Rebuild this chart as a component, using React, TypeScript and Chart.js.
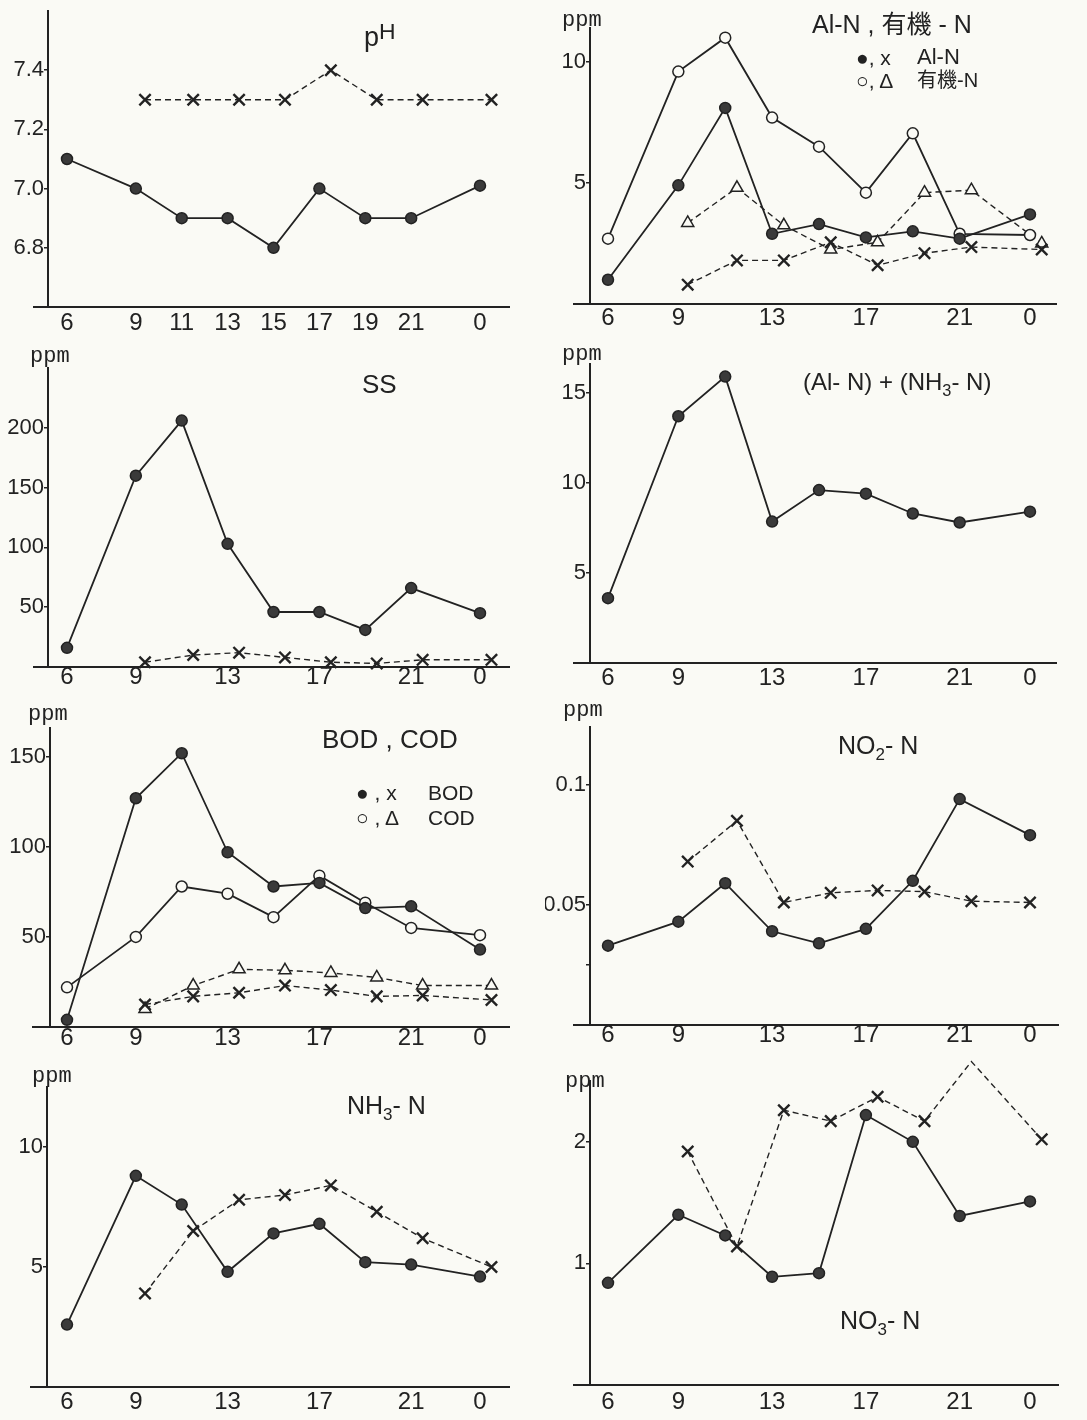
import React, { useEffect, useRef } from 'react';
import { Chart, registerables } from 'chart.js';
Chart.register(...registerables);

// ---------------- data ----------------
const HOURS = [6, 9, 11, 13, 15, 17, 19, 21, 24];
const HOURS_SHIFT = [9.4, 11.5, 13.5, 15.5, 17.5, 19.5, 21.5, 24.5];
const HOURS_SHIFT_NO2 = [9.4, 11.5, 13.5, 15.5, 17.5, 19.5, 21.5, 24.0];
const X_TICKS_PH = [6, 9, 11, 13, 15, 17, 19, 21, 24];
const X_TICKS = [6, 9, 13, 17, 21, 24];

const PH_SOLID = [7.1, 7.0, 6.9, 6.9, 6.8, 7.0, 6.9, 6.9, 7.01];
const PH_DASHED = [7.3, 7.3, 7.3, 7.3, 7.4, 7.3, 7.3, 7.3];

const ALN_SOLID = [1.0, 4.9, 8.1, 2.9, 3.3, 2.75, 3.0, 2.7, 3.7];
const ORGN_SOLID = [2.7, 9.6, 11.0, 7.7, 6.5, 4.6, 7.05, 2.9, 2.85];
const ALN_DASHED = [0.8, 1.8, 1.8, 2.55, 1.6, 2.1, 2.35, 2.25];
const ORGN_DASHED = [3.35, 4.8, 3.25, 2.25, 2.55, 4.6, 4.7, 2.5];

const SS_SOLID = [16, 160, 206, 103, 46, 46, 31, 66, 45];
const SS_DASHED = [4, 10, 12, 8, 4, 3, 6, 6];

const ALNH3_SOLID = [3.6, 13.7, 15.9, 7.85, 9.6, 9.4, 8.3, 7.8, 8.4];

const BOD_SOLID = [4, 127, 152, 97, 78, 80, 66, 67, 43];
const COD_SOLID = [22, 50, 78, 74, 61, 84, 69, 55, 51];
const BOD_DASHED = [12.5, 17, 19, 23, 20.5, 17, 17.5, 15];
const COD_DASHED = [10, 23, 32, 31.5, 30, 27.5, 23, 23];

const NO2_SOLID = [0.033, 0.043, 0.059, 0.039, 0.034, 0.04, 0.06, 0.094, 0.079];
const NO2_DASHED = [0.068, 0.085, 0.051, 0.055, 0.056, 0.0555, 0.0515, 0.051];

const NH3_SOLID = [2.6, 8.8, 7.6, 4.8, 6.4, 6.8, 5.2, 5.1, 4.6];
const NH3_DASHED = [3.9, 6.5, 7.8, 8.0, 8.4, 7.3, 6.2, 5.0];

const NO3_SOLID = [0.84, 1.4, 1.23, 0.89, 0.92, 2.22, 2.0, 1.39, 1.51];
const NO3_DASHED = [1.92, 1.14, 2.26, 2.17, 2.37, 2.17, 2.66, 2.02];

const Y_TICKS_PH = [6.8, 7.0, 7.2, 7.4];
const Y_TICKS_ALN = [5, 10];
const Y_TICKS_SS = [50, 100, 150, 200];
const Y_TICKS_ALNH3 = [5, 10, 15];
const Y_TICKS_BOD = [50, 100, 150];
const Y_TICKS_NO2 = [0.025, 0.05, 0.1];
const Y_TICKS_NH3 = [5, 10];
const Y_TICKS_NO3 = [1, 2];

// ---------------- style ----------------
const INK = '#222222';
const PAPER = '#fafaf5';
const SANS = '"Liberation Sans", Arial, "Noto Sans CJK JP", sans-serif';
const MONO = '"Liberation Mono", "DejaVu Sans Mono", monospace';

type Kind = 'dot' | 'open' | 'cross' | 'tri';
type Series = { xs: number[]; ys: number[]; kind: Kind };
type PanelDef = {
  cell: [number, number, number, number];
  left: number;
  right: number;
  top: number;
  bottom: number;
  col: 'L' | 'R';
  yMin: number;
  yMax: number;
  xTicks: number[];
  yTicks: number[];
  yLabel: (v: number) => string;
  xPad: number;
  ext: number;
  series: Series[];
};

const intLabel = (v: number) => String(v);

const PANELS: PanelDef[] = [
  {
    cell: [0, 0, 545, 340], left: 48, right: 510, top: 8, bottom: 307, col: 'L',
    yMin: 6.6, yMax: 7.6, xTicks: X_TICKS_PH, yTicks: Y_TICKS_PH,
    yLabel: (v) => v.toFixed(1), xPad: 4, ext: 15,
    series: [
      { xs: HOURS, ys: PH_SOLID, kind: 'dot' },
      { xs: HOURS_SHIFT, ys: PH_DASHED, kind: 'cross' },
    ],
  },
  {
    cell: [545, 0, 542, 340], left: 45, right: 512, top: 28, bottom: 304, col: 'R',
    yMin: 0, yMax: 11.4, xTicks: X_TICKS, yTicks: Y_TICKS_ALN,
    yLabel: intLabel, xPad: 2, ext: 17,
    series: [
      { xs: HOURS, ys: ALN_SOLID, kind: 'dot' },
      { xs: HOURS, ys: ORGN_SOLID, kind: 'open' },
      { xs: HOURS_SHIFT, ys: ALN_DASHED, kind: 'cross' },
      { xs: HOURS_SHIFT, ys: ORGN_DASHED, kind: 'tri' },
    ],
  },
  {
    cell: [0, 340, 545, 360], left: 48, right: 510, top: 28, bottom: 327, col: 'L',
    yMin: 0, yMax: 250, xTicks: X_TICKS, yTicks: Y_TICKS_SS,
    yLabel: intLabel, xPad: -2, ext: 15,
    series: [
      { xs: HOURS, ys: SS_SOLID, kind: 'dot' },
      { xs: HOURS_SHIFT, ys: SS_DASHED, kind: 'cross' },
    ],
  },
  {
    cell: [545, 340, 542, 360], left: 45, right: 512, top: 24, bottom: 323, col: 'R',
    yMin: 0, yMax: 16.6, xTicks: X_TICKS, yTicks: Y_TICKS_ALNH3,
    yLabel: intLabel, xPad: 3, ext: 17,
    series: [{ xs: HOURS, ys: ALNH3_SOLID, kind: 'dot' }],
  },
  {
    cell: [0, 700, 545, 360], left: 50, right: 510, top: 28, bottom: 327, col: 'L',
    yMin: 0, yMax: 166, xTicks: X_TICKS, yTicks: Y_TICKS_BOD,
    yLabel: intLabel, xPad: -1, ext: 18,
    series: [
      { xs: HOURS, ys: BOD_SOLID, kind: 'dot' },
      { xs: HOURS, ys: COD_SOLID, kind: 'open' },
      { xs: HOURS_SHIFT, ys: BOD_DASHED, kind: 'cross' },
      { xs: HOURS_SHIFT, ys: COD_DASHED, kind: 'tri' },
    ],
  },
  {
    cell: [545, 700, 542, 360], left: 45, right: 514, top: 27, bottom: 325, col: 'R',
    yMin: 0, yMax: 0.124, xTicks: X_TICKS, yTicks: Y_TICKS_NO2,
    yLabel: (v) => (Math.abs(v - 0.025) < 1e-6 ? '' : String(v)), xPad: -2, ext: 17,
    series: [
      { xs: HOURS, ys: NO2_SOLID, kind: 'dot' },
      { xs: HOURS_SHIFT_NO2, ys: NO2_DASHED, kind: 'cross' },
    ],
  },
  {
    cell: [0, 1060, 545, 360], left: 47, right: 510, top: 27, bottom: 327, col: 'L',
    yMin: 0, yMax: 12.5, xTicks: X_TICKS, yTicks: Y_TICKS_NH3,
    yLabel: intLabel, xPad: 3, ext: 17,
    series: [
      { xs: HOURS, ys: NH3_SOLID, kind: 'dot' },
      { xs: HOURS_SHIFT, ys: NH3_DASHED, kind: 'cross' },
    ],
  },
  {
    cell: [545, 1060, 542, 360], left: 45, right: 514, top: 21, bottom: 325, col: 'R',
    yMin: 0, yMax: 2.5, xTicks: X_TICKS, yTicks: Y_TICKS_NO3,
    yLabel: intLabel, xPad: 5, ext: 17,
    series: [
      { xs: HOURS, ys: NO3_SOLID, kind: 'dot' },
      { xs: HOURS_SHIFT, ys: NO3_DASHED, kind: 'cross' },
    ],
  },
];

function PanelChart({ p }: { p: PanelDef }) {
  const ref = useRef<HTMLCanvasElement | null>(null);
  useEffect(() => {
    const canvas = ref.current;
    if (!canvas) return;
    const [, , cw, ch] = p.cell;
    // pixel position of hour 6 and px per hour (local coordinates)
    const sixPx = p.col === 'L' ? 67 : 63;
    const perHour = p.col === 'L' ? (480 - 67) / 18 : (485 - 63) / 18;
    const xMin = 6 - (sixPx - p.left) / perHour;
    const xMax = 6 + (p.right - sixPx) / perHour;

    const axisPlugin = {
      id: 'xAxisLine',
      beforeDatasetsDraw(chart: any) {
        const { ctx, chartArea } = chart;
        ctx.save();
        ctx.strokeStyle = INK;
        ctx.lineWidth = 2;
        ctx.beginPath();
        ctx.moveTo(chartArea.left - p.ext, chartArea.bottom);
        ctx.lineTo(chartArea.right, chartArea.bottom);
        ctx.stroke();
        ctx.restore();
      },
    };

    const datasets = p.series.map((s) => {
      const dashed = s.kind === 'cross' || s.kind === 'tri';
      return {
        data: s.xs.map((x, i) => ({ x, y: s.ys[i] })),
        borderColor: INK,
        borderWidth: dashed ? 1.4 : 1.8,
        borderDash: dashed ? [6, 4] : [],
        pointStyle: s.kind === 'cross' ? 'crossRot' : s.kind === 'tri' ? 'triangle' : 'circle',
        pointRadius: s.kind === 'cross' ? 8 : s.kind === 'tri' ? 7 : 5.5,
        pointBorderWidth: s.kind === 'cross' ? 2.4 : 1.5,
        pointBackgroundColor: s.kind === 'dot' ? '#3a3a3a' : PAPER,
        pointBorderColor: INK,
        tension: 0,
        fill: false,
        clip: false as any,
      };
    });

    const chart = new Chart(canvas, {
      type: 'line',
      data: { datasets: datasets as any },
      plugins: [axisPlugin],
      options: {
        animation: false,
        responsive: false,
        devicePixelRatio: 1,
        events: [],
        layout: { padding: { left: 0, top: p.top, right: cw - p.right, bottom: 0 } },
        plugins: {
          legend: { display: false },
          tooltip: { enabled: false },
          title: { display: false },
        },
        scales: {
          x: {
            type: 'linear',
            min: xMin,
            max: xMax,
            afterFit: (s: any) => {
              s.height = ch - p.bottom;
            },
            afterBuildTicks: (a: any) => {
              a.ticks = p.xTicks.map((v) => ({ value: v }));
            },
            ticks: {
              autoSkip: false,
              maxRotation: 0,
              padding: p.xPad,
              color: INK,
              font: { family: SANS, size: 24, lineHeight: 1 },
              callback: (v: any) => (Number(v) === 24 ? '0' : String(v)),
            },
            grid: { display: false, drawTicks: false },
            border: { display: false },
          },
          y: {
            type: 'linear',
            min: p.yMin,
            max: p.yMax,
            afterFit: (s: any) => {
              s.width = p.left;
            },
            afterBuildTicks: (a: any) => {
              a.ticks = p.yTicks.map((v) => ({ value: v }));
            },
            ticks: {
              autoSkip: false,
              padding: 0,
              color: INK,
              font: { family: SANS, size: 22, lineHeight: 1 },
              callback: (v: any) => p.yLabel(Number(v)),
            },
            grid: {
              display: true,
              drawOnChartArea: false,
              drawTicks: true,
              tickLength: 4,
              color: INK,
              lineWidth: 1.5,
            },
            border: { display: true, color: INK, width: 2 },
          },
        },
      } as any,
    });
    return () => chart.destroy();
  }, [p]);
  const [cx, cy, cw, ch] = p.cell;
  return (
    <canvas
      ref={ref}
      width={cw}
      height={ch}
      style={{ position: 'absolute', left: cx, top: cy, width: cw, height: ch }}
    />
  );
}

function Txt({
  x, y, size, children, font = SANS, style = {},
}: {
  x: number; y: number; size: number; children: React.ReactNode; font?: string; style?: React.CSSProperties;
}) {
  return (
    <div
      style={{
        position: 'absolute',
        left: x,
        top: y - size / 2,
        fontSize: size,
        lineHeight: 1,
        fontFamily: font,
        color: INK,
        whiteSpace: 'nowrap',
        ...style,
      }}
    >
      {children}
    </div>
  );
}

const sub: React.CSSProperties = { fontSize: '0.68em', verticalAlign: '-0.35em' };

export default function App() {
  return (
    <div
      style={{
        position: 'absolute',
        left: 0,
        top: 0,
        width: 1087,
        height: 1420,
        background: PAPER,
        overflow: 'hidden',
      }}
    >
      {PANELS.map((p, i) => (
        <PanelChart key={i} p={p} />
      ))}

      {/* pH */}
      <Txt x={364} y={33} size={27}>
        p<span style={{ verticalAlign: '0.3em', fontSize: '0.85em' }}>H</span>
      </Txt>

      {/* Al-N, 有機-N */}
      <Txt x={562} y={21} size={22} font={MONO}>ppm</Txt>
      <Txt x={812} y={24} size={25}>Al-N , 有機 - N</Txt>
      <Txt x={856} y={57} size={21}>●, x</Txt>
      <Txt x={917} y={57} size={22}>Al-N</Txt>
      <Txt x={856} y={80} size={21}>○, Δ</Txt>
      <Txt x={917} y={80} size={20}>有機-N</Txt>

      {/* SS */}
      <Txt x={30} y={357} size={22} font={MONO}>ppm</Txt>
      <Txt x={362} y={384} size={26}>SS</Txt>

      {/* (Al-N)+(NH3-N) */}
      <Txt x={562} y={355} size={22} font={MONO}>ppm</Txt>
      <Txt x={803} y={382} size={24}>
        (Al- N) + (NH<span style={sub}>3</span>- N)
      </Txt>

      {/* BOD, COD */}
      <Txt x={28} y={715} size={22} font={MONO}>ppm</Txt>
      <Txt x={322} y={739} size={26}>BOD , COD</Txt>
      <Txt x={356} y={792} size={21}>● , x</Txt>
      <Txt x={428} y={792} size={21}>BOD</Txt>
      <Txt x={356} y={817} size={21}>○ , Δ</Txt>
      <Txt x={428} y={817} size={21}>COD</Txt>

      {/* NO2-N */}
      <Txt x={563} y={711} size={22} font={MONO}>ppm</Txt>
      <Txt x={838} y={745} size={25}>
        NO<span style={sub}>2</span>- N
      </Txt>

      {/* NH3-N */}
      <Txt x={32} y={1077} size={22} font={MONO}>ppm</Txt>
      <Txt x={347} y={1105} size={25}>
        NH<span style={sub}>3</span>- N
      </Txt>

      {/* NO3-N */}
      <Txt x={565} y={1082} size={22} font={MONO}>ppm</Txt>
      <Txt x={840} y={1320} size={25}>
        NO<span style={sub}>3</span>- N
      </Txt>
    </div>
  );
}
